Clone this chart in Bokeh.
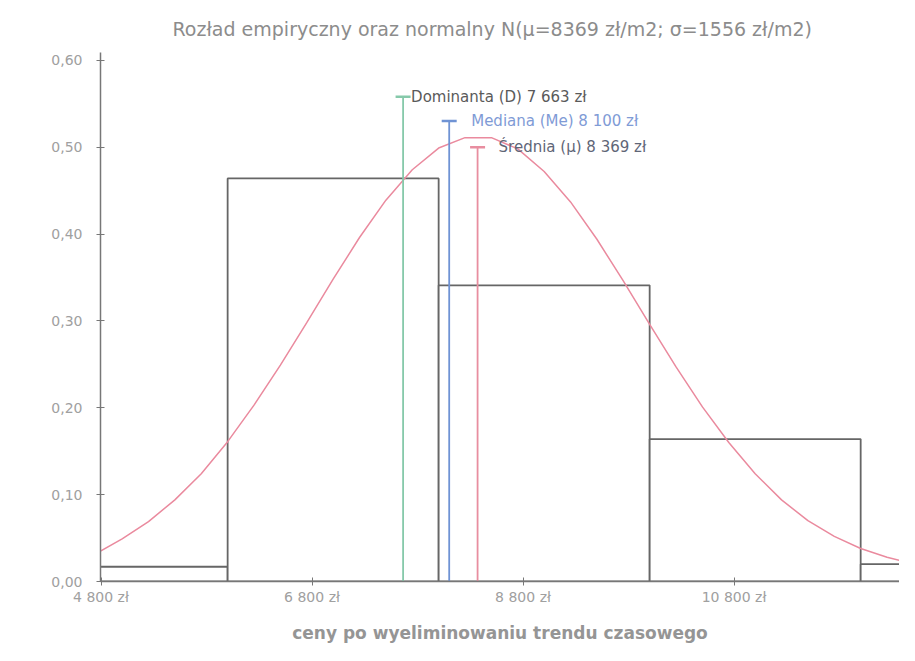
from bokeh.plotting import figure
from bokeh.models import Range1d, FixedTicker, Label
from bokeh.core.properties import value
from bokeh.embed import file_html
from bokeh.resources import INLINE
import math

# ---- data ----
bin_left = [4000, 6000, 8000, 10000, 12000]
bin_right = [6000, 8000, 10000, 12000, 14000]
freq = [0.017, 0.464, 0.341, 0.164, 0.020]

curve_x = [4750, 5000, 5250, 5500, 5750, 6000, 6250, 6500, 6750, 7000, 7250, 7500,
           7750, 8000, 8250, 8500, 8750, 9000, 9250, 9500, 9750, 10000, 10250, 10500,
           10750, 11000, 11250, 11500, 11750, 12000, 12250, 12500]
curve_y = [0.032, 0.049, 0.069, 0.094, 0.124, 0.161, 0.203, 0.249, 0.298, 0.348, 0.396, 0.439,
           0.474, 0.499, 0.511, 0.511, 0.498, 0.472, 0.437, 0.394, 0.346, 0.296, 0.247, 0.201,
           0.160, 0.124, 0.094, 0.070, 0.052, 0.038, 0.028, 0.020]

stat_names = ["Dominanta (D) 7 663 zł", "Mediana (Me) 8 100 zł", "Średnia (µ) 8 369 zł"]
stat_x = [7663, 8100, 8369]
stat_top = [0.558, 0.530, 0.500]

x_ticks = [4800, 6800, 8800, 10800]
x_tick_labels = ["4 800 zł", "6 800 zł", "8 800 zł", "10 800 zł"]
y_ticks = [0.0, 0.1, 0.2, 0.3, 0.4, 0.5, 0.6]
y_tick_labels = ["0,00", "0,10", "0,20", "0,30", "0,40", "0,50", "0,60"]

title_text = "Rozład empiryczny oraz normalny N(µ=8369 zł/m2; σ=1556 zł/m2)"
x_label = "ceny po wyeliminowaniu trendu czasowego"
y_label = "Częstość"

# ---- styles ----
FONT = "DejaVu Sans"
stat_colors = ["#86c9aa", "#6f93d4", "#e88ea0"]
stat_text_colors = ["#5a5a5a", "#7f9bd6", "#5f6677"]
stat_text_dx = [8, 22, 21]

p = figure(width=899, height=645, x_range=Range1d(4795, 12368), y_range=Range1d(0, 0.609),
           output_backend="svg", toolbar_location=None,
           min_border_left=100, min_border_right=0, min_border_top=52, min_border_bottom=63)
p.outline_line_color = None
p.xgrid.visible = False
p.ygrid.visible = False
p.background_fill_color = "white"

p.title.text = title_text
p.title.align = "left"
p.title.text_font = FONT
p.title.text_font_size = "19px"
p.title.text_font_style = "normal"
p.title.text_color = "#8c8c8c"
p.title.standoff = 26
p.title.offset = 72

# bars
p.quad(left=bin_left, right=bin_right, bottom=0, top=freq,
       fill_color="white", line_color="#666666", line_width=1.8)

# normal curve
p.line(curve_x, curve_y, line_color="#ea8a9e", line_width=1.5)

# stat lines with caps
for i in range(len(stat_x)):
    p.segment(x0=[stat_x[i]], y0=[0], x1=[stat_x[i]], y1=[stat_top[i]],
              line_color=stat_colors[i], line_width=1.8)
    p.scatter([stat_x[i]], [stat_top[i]], marker="dash", size=15,
              line_color=stat_colors[i], line_width=2.5)
    p.text([stat_x[i]], [stat_top[i]], text=[stat_names[i]], x_offset=stat_text_dx[i],
           text_baseline="middle", text_align="left", text_font=value(FONT),
           text_font_size="15px", text_color=stat_text_colors[i])

for ax in (p.xaxis[0], p.yaxis[0]):
    ax.axis_line_color = "#777777"
    ax.axis_line_width = 1.5
    ax.major_tick_line_color = "#777777"
    ax.major_tick_in = 4
    ax.major_tick_out = 4
    ax.minor_tick_line_color = None
    ax.major_label_text_font = FONT
    ax.major_label_text_font_size = "14px"
    ax.major_label_text_color = "#a0a0a0"

p.xaxis[0].ticker = FixedTicker(ticks=x_ticks)
p.xaxis[0].major_label_overrides = {t: l for t, l in zip(x_ticks, x_tick_labels)}
p.xaxis[0].major_label_standoff = 3
p.xaxis[0].axis_label = x_label
p.xaxis[0].axis_label_text_font = FONT
p.xaxis[0].axis_label_text_font_size = "17px"
p.xaxis[0].axis_label_text_font_style = "bold"
p.xaxis[0].axis_label_text_color = "#959595"
p.xaxis[0].axis_label_standoff = 15

p.yaxis[0].ticker = FixedTicker(ticks=y_ticks)
p.yaxis[0].major_label_overrides = {t: l for t, l in zip(y_ticks, y_tick_labels)}
p.yaxis[0].major_label_standoff = 14

ylab = Label(x=4184, y=0.272, text=y_label, angle=math.pi / 2, text_align="center",
             text_baseline="middle", text_font=FONT, text_font_size="17px",
             text_font_style="bold", text_color="#808080")
p.add_layout(ylab)

open("out.html", "w").write(file_html(p, INLINE))
